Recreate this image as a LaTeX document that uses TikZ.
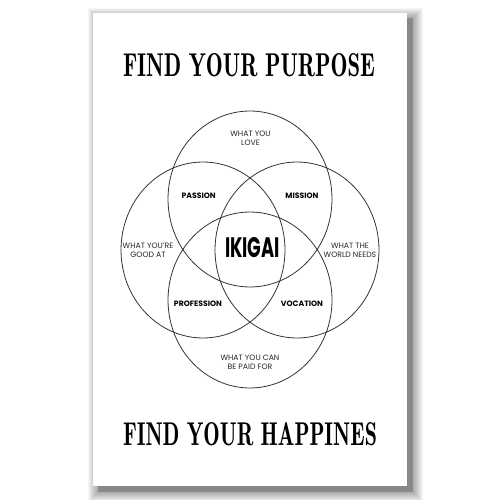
\documentclass[tikz,border=0pt]{standalone}
\usepackage{fontspec}
\newfontfamily\labelfont{Poppins}
\newfontfamily\titlefont{lmromandemi10-regular.otf}
\usetikzlibrary{shapes.geometric}
\begin{document}
\begin{tikzpicture}[x=0.02cm,y=-0.02cm,
  ring/.style={draw=black!80, line width=0.45pt, ellipse, minimum width=3.28cm, minimum height=3.52cm, inner sep=0pt},
  small/.style={font=\labelfont\fontsize{4.4}{5.1}\selectfont, align=center, inner sep=0pt, text=black!85},
  strong/.style={font=\labelfont\bfseries\fontsize{4.4}{5.1}\selectfont, inner sep=0pt, text=black},
  title/.style={inner sep=0pt, text=black}]
\useasboundingbox (0,0) rectangle (500,500);
\fill[white] (0,0) rectangle (500,500);
% shadow of the poster
\fill[black, opacity=0.15] (98,18) rectangle (413,492);
\foreach \k in {1,...,12}
  \fill[black, opacity=0.035] (100-\k,20-\k) rectangle (411+\k,490+\k);
% poster
\fill[white] (93,13) rectangle (407,486);
% titles
\node[title] (top) at (249,64.7) {\resizebox{5.04cm}{0.46cm}{\titlefont FIND YOUR PURPOSE}};
\node[title] (bottom) at (250,434.5) {\resizebox{5.08cm}{0.46cm}{\titlefont FIND YOUR HAPPINES}};
% circles
\node[ring] (love) at (250,199) {};
\node[ring] (good) at (203,250) {};
\node[ring] (world) at (297,250) {};
\node[ring] (paid) at (250,300) {};
% labels
\node[small] (lovet) at (250.5,138.2) {WHAT YOU\\LOVE};
\node[small] (goodt) at (148,250) {WHAT YOU’RE\\GOOD AT};
\node[small] (worldt) at (350,250) {WHAT THE\\WORLD NEEDS};
\node[small] (paidt) at (250,362.5) {WHAT YOU CAN\\BE PAID FOR};
\node[strong] (passion) at (198.6,195.7) {PASSION};
\node[strong] (mission) at (302,196) {MISSION};
\node[strong] (profession) at (198,304) {PROFESSION};
\node[strong] (vocation) at (302,304) {VOCATION};
\node[title] (ikigai) at (252.5,247.3) {\resizebox{1.1cm}{0.4cm}{\labelfont\bfseries IKIGAI}};
\end{tikzpicture}
\end{document}
